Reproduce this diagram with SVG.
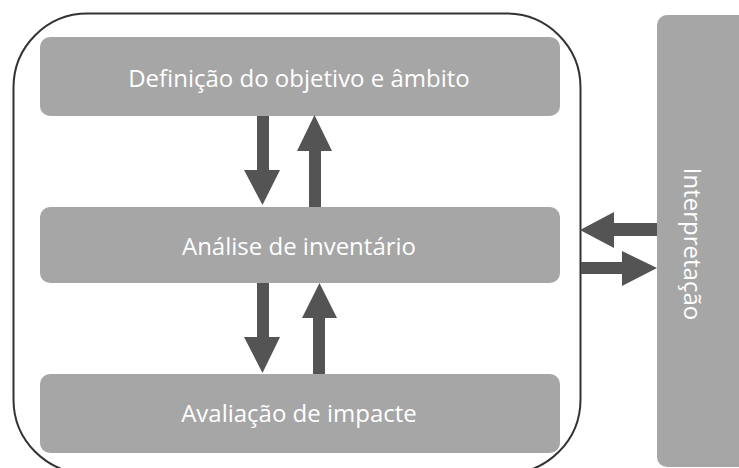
<svg xmlns="http://www.w3.org/2000/svg" width="739" height="468" viewBox="0 0 739 468">
<style>
.box{fill:#a6a6a6}
.lbl{fill:#ffffff;font-family:"Open Sans","DejaVu Sans",sans-serif;font-size:24px;text-anchor:middle}
.arr{fill:#545454}
</style>
<rect x="0" y="0" width="739" height="468" fill="#ffffff"/>
<rect x="13.5" y="13.5" width="567" height="460" rx="74" ry="74" fill="none" stroke="#333333" stroke-width="2"/>
<g id="def">
<rect class="box" x="40" y="37" width="520" height="79" rx="10"/>
<text class="lbl" x="299" y="87">Definição do objetivo e âmbito</text>
</g>
<g id="inv">
<rect class="box" x="40" y="207" width="520" height="76" rx="10"/>
<text class="lbl" x="299" y="255">Análise de inventário</text>
</g>
<g id="aval">
<rect class="box" x="40" y="374" width="520" height="79" rx="10"/>
<text class="lbl" x="299" y="422">Avaliação de impacte</text>
</g>
<g id="interp">
<rect class="box" x="657" y="15" width="100" height="452" rx="10"/>
<text class="lbl" transform="translate(684,244) rotate(90)" x="0" y="0">Interpretação</text>
</g>
<g id="connectors">
<polygon class="arr" points="257,116 269,116 269,170 280,170 262.5,205 244,170 257,170"/>
<polygon class="arr" points="309,207 321,207 321,151 332,151 314.5,115 297,151 309,151"/>
<polygon class="arr" points="257,283 269,283 269,337 280,337 262.5,373 244,337 257,337"/>
<polygon class="arr" points="313,374 325,374 325,318 337,318 319.5,283 302,318 313,318"/>
<polygon class="arr" points="657,223 614,223 614,212 580,230 614,248 614,236 657,236"/>
<polygon class="arr" points="581,262 622,262 622,251 657,268 622,286 622,274 581,274"/>
</g>
</svg>
